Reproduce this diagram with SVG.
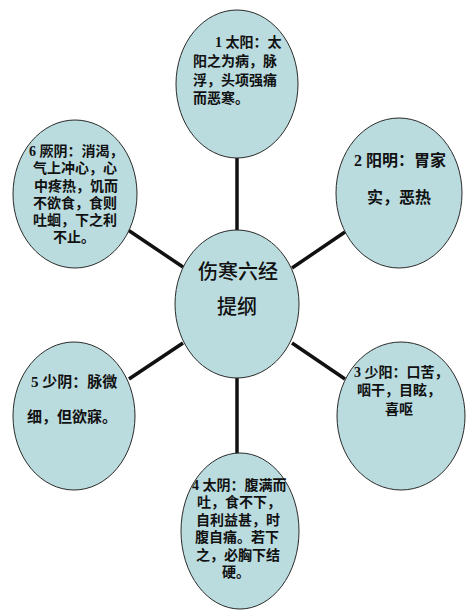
<svg xmlns="http://www.w3.org/2000/svg" width="475" height="613" viewBox="0 0 475 613">
<style>
.n{fill:#badcdf;stroke:#2a2a2a;stroke-width:1}
.t{font-family:"Liberation Serif","Noto Sans CJK SC",serif;font-weight:bold;fill:#111;dominant-baseline:central}
.s14{font-size:14px}
.s15{font-size:15px}
.s16{font-size:16px}
.c{font-family:"Liberation Serif","Noto Sans CJK SC",serif;font-size:20px;font-weight:500;fill:#111;dominant-baseline:central}
.e{stroke:#111;stroke-width:3.5;fill:none}
</style>
<rect width="475" height="613" fill="#ffffff"/>
<g id="connectors">
<line class="e" x1="237" y1="158" x2="237" y2="231"/>
<line class="e" x1="237" y1="377" x2="237" y2="454"/>
<line class="e" x1="128" y1="230" x2="183" y2="267"/>
<line class="e" x1="292" y1="268" x2="345" y2="232"/>
<line class="e" x1="129" y1="379" x2="183" y2="343"/>
<line class="e" x1="292" y1="343" x2="345" y2="379"/>
</g>
<g id="node-center">
<ellipse class="n" cx="237" cy="304" rx="62" ry="74"/>
<text class="c" x="198" y="272">伤寒六经</text>
<text class="c" x="217" y="307">提纲</text>
</g>
<g id="node-1">
<ellipse class="n" cx="237" cy="84" rx="61" ry="74"/>
<text class="t s14" x="215" y="42">1 太阳：太</text>
<text class="t s14" x="193" y="61">阳之为病，脉</text>
<text class="t s14" x="193" y="80">浮，头项强痛</text>
<text class="t s14" x="193" y="98">而恶寒。</text>
</g>
<g id="node-2">
<ellipse class="n" cx="399" cy="193" rx="63" ry="75"/>
<text class="t s16" x="354" y="160">2 阳明：胃家</text>
<text class="t s16" x="367" y="197">实，恶热</text>
</g>
<g id="node-3">
<ellipse class="n" cx="401" cy="416" rx="64" ry="74"/>
<text class="t s14" x="354" y="372">3 少阳：口苦，</text>
<text class="t s14" x="357" y="390">咽干，目眩，</text>
<text class="t s14" x="385" y="409">喜呕</text>
</g>
<g id="node-4">
<ellipse class="n" cx="240" cy="531" rx="59" ry="78"/>
<text class="t s14" x="192" y="485">4 太阴：腹满而</text>
<text class="t s14" x="197" y="502">吐，食不下，</text>
<text class="t s14" x="196" y="520">自利益甚，时</text>
<text class="t s14" x="195" y="537">腹自痛。若下</text>
<text class="t s14" x="196" y="555">之，必胸下结</text>
<text class="t s14" x="222" y="572">硬。</text>
</g>
<g id="node-5">
<ellipse class="n" cx="74" cy="416" rx="61" ry="74"/>
<text class="t s15" x="31" y="382">5 少阴：脉微</text>
<text class="t s15" x="27" y="417">细，但欲寐。</text>
</g>
<g id="node-6">
<ellipse class="n" cx="75" cy="194" rx="62" ry="74"/>
<text class="t s14" x="29" y="151">6 厥阴：消渴，</text>
<text class="t s14" x="33" y="168">气上冲心，心</text>
<text class="t s14" x="34" y="186">中疼热，饥而</text>
<text class="t s14" x="33" y="203">不欲食，食则</text>
<text class="t s14" x="33" y="220">吐蛔，下之利</text>
<text class="t s14" x="53" y="237">不止。</text>
</g>
</svg>
